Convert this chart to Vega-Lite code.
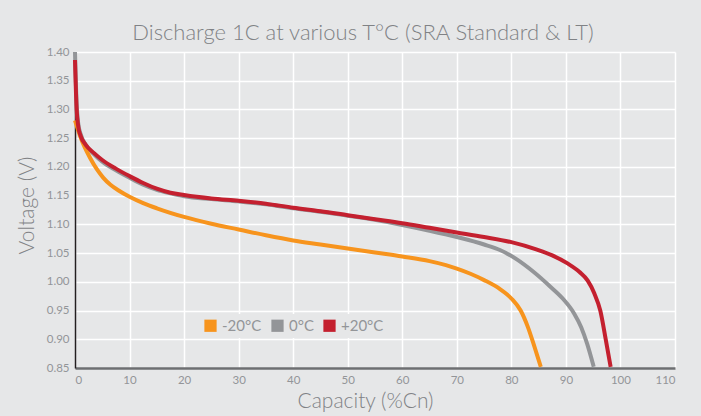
{
  "$schema": "https://vega.github.io/schema/vega-lite/v6.json",
  "width": 600,
  "height": 316,
  "autosize": {"type": "none"},
  "padding": {"left": 75, "top": 52, "right": 26, "bottom": 48},
  "background": "#e6e7e8",
  "title": {
    "text": "Discharge 1C at various T°C (SRA Standard & LT)",
    "font": "Lato",
    "fontSize": 22,
    "fontWeight": 300,
    "color": "#808285",
    "anchor": "middle",
    "dx": -12,
    "offset": -1
  },
  "config": {
    "view": {"stroke": null},
    "font": "Lato"
  },
  "data": {
    "values": [
      {"t": "0°C", "x": 0, "v": 1.40},
      {"t": "0°C", "x": 0.3, "v": 1.31},
      {"t": "0°C", "x": 0.6, "v": 1.275},
      {"t": "0°C", "x": 1, "v": 1.258},
      {"t": "0°C", "x": 2, "v": 1.238},
      {"t": "0°C", "x": 3.5, "v": 1.222},
      {"t": "0°C", "x": 5, "v": 1.209},
      {"t": "0°C", "x": 7.5, "v": 1.194},
      {"t": "0°C", "x": 10, "v": 1.181},
      {"t": "0°C", "x": 12.5, "v": 1.169},
      {"t": "0°C", "x": 15, "v": 1.160},
      {"t": "0°C", "x": 17.5, "v": 1.154},
      {"t": "0°C", "x": 20, "v": 1.149},
      {"t": "0°C", "x": 25, "v": 1.144},
      {"t": "0°C", "x": 30, "v": 1.140},
      {"t": "0°C", "x": 35, "v": 1.135},
      {"t": "0°C", "x": 40, "v": 1.128},
      {"t": "0°C", "x": 45, "v": 1.122},
      {"t": "0°C", "x": 50, "v": 1.115},
      {"t": "0°C", "x": 55, "v": 1.108},
      {"t": "0°C", "x": 60, "v": 1.099},
      {"t": "0°C", "x": 65, "v": 1.089},
      {"t": "0°C", "x": 70, "v": 1.078},
      {"t": "0°C", "x": 75, "v": 1.065},
      {"t": "0°C", "x": 78, "v": 1.055},
      {"t": "0°C", "x": 81, "v": 1.039},
      {"t": "0°C", "x": 84.1, "v": 1.017},
      {"t": "0°C", "x": 87.2, "v": 0.991},
      {"t": "0°C", "x": 89.5, "v": 0.970},
      {"t": "0°C", "x": 91.5, "v": 0.945},
      {"t": "0°C", "x": 92.8, "v": 0.921},
      {"t": "0°C", "x": 93.9, "v": 0.892},
      {"t": "0°C", "x": 95.1, "v": 0.852},
      {"t": "-20°C", "x": 0, "v": 1.281},
      {"t": "-20°C", "x": 1, "v": 1.252},
      {"t": "-20°C", "x": 2.8, "v": 1.215},
      {"t": "-20°C", "x": 4, "v": 1.196},
      {"t": "-20°C", "x": 5.2, "v": 1.181},
      {"t": "-20°C", "x": 6.5, "v": 1.169},
      {"t": "-20°C", "x": 8, "v": 1.159},
      {"t": "-20°C", "x": 10, "v": 1.148},
      {"t": "-20°C", "x": 12.5, "v": 1.137},
      {"t": "-20°C", "x": 15, "v": 1.128},
      {"t": "-20°C", "x": 20, "v": 1.113},
      {"t": "-20°C", "x": 25, "v": 1.101},
      {"t": "-20°C", "x": 30, "v": 1.091},
      {"t": "-20°C", "x": 35, "v": 1.081},
      {"t": "-20°C", "x": 40, "v": 1.072},
      {"t": "-20°C", "x": 45, "v": 1.065},
      {"t": "-20°C", "x": 50, "v": 1.058},
      {"t": "-20°C", "x": 55, "v": 1.051},
      {"t": "-20°C", "x": 60, "v": 1.044},
      {"t": "-20°C", "x": 65, "v": 1.036},
      {"t": "-20°C", "x": 68, "v": 1.029},
      {"t": "-20°C", "x": 70, "v": 1.023},
      {"t": "-20°C", "x": 72.5, "v": 1.014},
      {"t": "-20°C", "x": 75, "v": 1.003},
      {"t": "-20°C", "x": 77.8, "v": 0.988},
      {"t": "-20°C", "x": 80, "v": 0.971},
      {"t": "-20°C", "x": 81.7, "v": 0.950},
      {"t": "-20°C", "x": 83, "v": 0.922},
      {"t": "-20°C", "x": 84.2, "v": 0.888},
      {"t": "-20°C", "x": 85.4, "v": 0.852},
      {"t": "+20°C", "x": 0, "v": 1.386},
      {"t": "+20°C", "x": 0.3, "v": 1.30},
      {"t": "+20°C", "x": 0.6, "v": 1.27},
      {"t": "+20°C", "x": 1, "v": 1.255},
      {"t": "+20°C", "x": 2, "v": 1.238},
      {"t": "+20°C", "x": 3.5, "v": 1.224},
      {"t": "+20°C", "x": 5, "v": 1.212},
      {"t": "+20°C", "x": 7.5, "v": 1.197},
      {"t": "+20°C", "x": 10, "v": 1.184},
      {"t": "+20°C", "x": 12.5, "v": 1.172},
      {"t": "+20°C", "x": 15, "v": 1.162},
      {"t": "+20°C", "x": 17.5, "v": 1.155},
      {"t": "+20°C", "x": 20, "v": 1.151},
      {"t": "+20°C", "x": 25, "v": 1.145},
      {"t": "+20°C", "x": 30, "v": 1.141},
      {"t": "+20°C", "x": 35, "v": 1.136},
      {"t": "+20°C", "x": 40, "v": 1.129},
      {"t": "+20°C", "x": 45, "v": 1.123},
      {"t": "+20°C", "x": 50, "v": 1.116},
      {"t": "+20°C", "x": 55, "v": 1.109},
      {"t": "+20°C", "x": 60, "v": 1.102},
      {"t": "+20°C", "x": 65, "v": 1.094},
      {"t": "+20°C", "x": 70, "v": 1.086},
      {"t": "+20°C", "x": 75, "v": 1.078},
      {"t": "+20°C", "x": 80, "v": 1.069},
      {"t": "+20°C", "x": 84.7, "v": 1.056},
      {"t": "+20°C", "x": 87.5, "v": 1.046},
      {"t": "+20°C", "x": 90.3, "v": 1.032},
      {"t": "+20°C", "x": 92.5, "v": 1.017},
      {"t": "+20°C", "x": 94, "v": 1.002},
      {"t": "+20°C", "x": 95.2, "v": 0.980},
      {"t": "+20°C", "x": 96.3, "v": 0.950},
      {"t": "+20°C", "x": 97.3, "v": 0.90},
      {"t": "+20°C", "x": 98.2, "v": 0.852}
    ]
  },
  "mark": {"type": "line", "strokeWidth": 4, "interpolate": "monotone", "strokeCap": "butt"},
  "encoding": {
    "x": {
      "field": "x",
      "type": "quantitative",
      "scale": {"domain": [0, 110], "nice": false, "zero": false},
      "axis": {
        "title": "Capacity (%Cn)",
        "titleFont": "Lato",
        "titleFontSize": 21,
        "titleFontWeight": 300,
        "titleColor": "#808285",
        "titlePadding": 5,
        "titleX": 290,
        "values": [0, 10, 20, 30, 40, 50, 60, 70, 80, 90, 100, 110],
        "labelFontSize": 11.5,
        "labelColor": "#939598",
        "labelPadding": 6,
        "ticks": false,
        "grid": true,
        "gridColor": "#ffffff",
        "gridWidth": 1.5,
        "domainColor": "#6d6e71",
        "domainWidth": 2.5
      }
    },
    "y": {
      "field": "v",
      "type": "quantitative",
      "scale": {"domain": [0.85, 1.40], "nice": false, "zero": false},
      "axis": {
        "title": "Voltage (V)",
        "titleFont": "Lato",
        "titleFontSize": 21,
        "titleFontWeight": 300,
        "titleColor": "#808285",
        "titlePadding": 9,
        "titleY": 153,
        "values": [0.85, 0.90, 0.95, 1.00, 1.05, 1.10, 1.15, 1.20, 1.25, 1.30, 1.35, 1.40],
        "format": ".2f",
        "labelFontSize": 11.5,
        "labelColor": "#939598",
        "labelPadding": 6,
        "ticks": false,
        "grid": true,
        "gridColor": "#ffffff",
        "gridWidth": 1.5,
        "domainColor": "#231f20",
        "domainWidth": 1.5
      }
    },
    "color": {
      "field": "t",
      "type": "nominal",
      "sort": ["-20°C", "0°C", "+20°C"],
      "scale": {"domain": ["-20°C", "0°C", "+20°C"], "range": ["#f7941d", "#939598", "#c4202f"]},
      "legend": {
        "orient": "none",
        "legendX": 124,
        "legendY": 262,
        "direction": "horizontal",
        "title": null,
        "symbolType": "square",
        "symbolSize": 150,
        "labelFontSize": 15,
        "labelColor": "#939598",
        "labelFont": "Lato",
        "labelOffset": 4,
        "columnPadding": 8,
        "fillColor": "#e6e7e8",
        "padding": 4,
        "encode": {
          "symbols": {
            "update": {
              "fill": {"scale": "color", "field": "value"},
              "strokeWidth": {"value": 0},
              "fillOpacity": {"value": 1}
            }
          }
        }
      }
    },
    "order": {"field": "x", "type": "quantitative"}
  }
}
